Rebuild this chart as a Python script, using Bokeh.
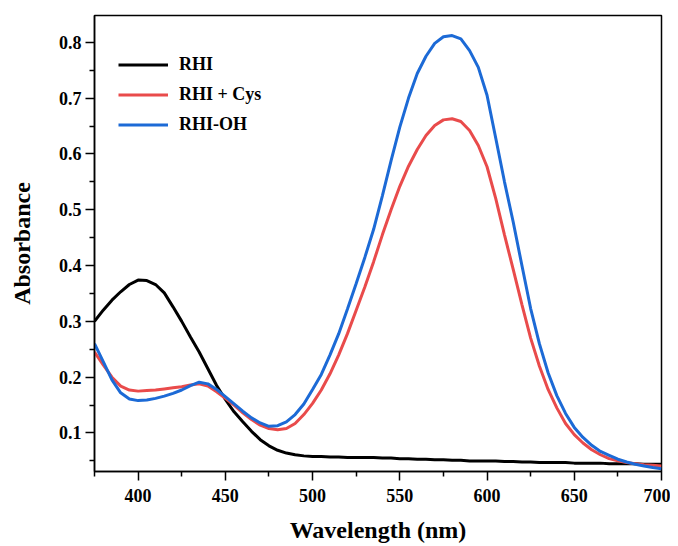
from bokeh.plotting import figure
from bokeh.models import FixedTicker, Legend, LegendItem, Range1d
from bokeh.embed import file_html
from bokeh.resources import INLINE

# Wavelength grid (nm)
wavelength = list(range(375, 701, 5))

rhi = [0.300, 0.320, 0.338, 0.353, 0.366, 0.374, 0.373, 0.366, 0.351, 0.326,
       0.300, 0.272, 0.245, 0.215, 0.185, 0.160, 0.138, 0.120, 0.103, 0.088,
       0.077, 0.069, 0.064, 0.061, 0.059, 0.058, 0.058, 0.057, 0.057, 0.056,
       0.056, 0.056, 0.056, 0.055, 0.055, 0.054, 0.054, 0.053, 0.053, 0.052,
       0.052, 0.051, 0.051, 0.050, 0.050, 0.050, 0.050, 0.049, 0.049, 0.048,
       0.048, 0.047, 0.047, 0.047, 0.047, 0.046, 0.046, 0.046, 0.046, 0.045,
       0.045, 0.045, 0.045, 0.044, 0.044, 0.044]

rhi_cys = [0.245, 0.222, 0.200, 0.184, 0.177, 0.175, 0.176, 0.177, 0.179, 0.181,
           0.183, 0.186, 0.188, 0.184, 0.174, 0.162, 0.150, 0.136, 0.124, 0.114,
           0.108, 0.106, 0.108, 0.117, 0.133, 0.153, 0.177, 0.206, 0.240, 0.278,
           0.320, 0.362, 0.407, 0.455, 0.500, 0.542, 0.578, 0.608, 0.633, 0.651,
           0.661, 0.663, 0.658, 0.642, 0.615, 0.577, 0.520, 0.455, 0.393, 0.330,
           0.270, 0.220, 0.178, 0.145, 0.117, 0.097, 0.082, 0.070, 0.061, 0.054,
           0.050, 0.047, 0.045, 0.043, 0.042, 0.041]

rhi_oh = [0.260, 0.228, 0.195, 0.172, 0.161, 0.158, 0.159, 0.162, 0.166, 0.171,
          0.177, 0.185, 0.191, 0.188, 0.178, 0.165, 0.152, 0.139, 0.127, 0.118,
          0.112, 0.113, 0.120, 0.133, 0.152, 0.178, 0.205, 0.240, 0.278, 0.322,
          0.368, 0.415, 0.465, 0.525, 0.588, 0.648, 0.700, 0.744, 0.775, 0.798,
          0.810, 0.812, 0.806, 0.785, 0.755, 0.705, 0.628, 0.550, 0.478, 0.400,
          0.323, 0.260, 0.208, 0.167, 0.135, 0.110, 0.092, 0.078, 0.067, 0.060,
          0.053, 0.048, 0.044, 0.041, 0.038, 0.036]

series_labels = ["RHI", "RHI + Cys", "RHI-OH"]
series_colors = ["#000000", "#E94B4B", "#1C6AD6"]

x_major = [400, 450, 500, 550, 600, 650, 700]
x_minor = [375, 425, 475, 525, 575, 625, 675]
y_major = [0.1, 0.2, 0.3, 0.4, 0.5, 0.6, 0.7, 0.8]
y_minor = [0.05, 0.15, 0.25, 0.35, 0.45, 0.55, 0.65, 0.75]

FONT = "Liberation Serif"

p = figure(width=670, height=546, output_backend="svg", toolbar_location=None,
           x_range=Range1d(375, 700), y_range=Range1d(0.031, 0.848),
           min_border_left=94, min_border_right=9, min_border_top=15,
           min_border_bottom=75)

p.background_fill_color = "white"
p.border_fill_color = "white"
p.outline_line_color = "black"
p.outline_line_width = 1.5
p.xgrid.visible = False
p.ygrid.visible = False

renderers = []
for ys, col in zip([rhi, rhi_cys, rhi_oh], series_colors):
    renderers.append(p.line(wavelength, ys, line_color=col, line_width=3))

for ax, major, minor in ((p.xaxis[0], x_major, x_minor), (p.yaxis[0], y_major, y_minor)):
    ax.ticker = FixedTicker(ticks=major, minor_ticks=minor)
    ax.axis_line_color = "black"
    ax.axis_line_width = 1.5
    ax.major_tick_line_width = 1.5
    ax.minor_tick_line_width = 1.5
    ax.major_tick_in = 0
    ax.major_tick_out = 9
    ax.minor_tick_in = 0
    ax.minor_tick_out = 5
    ax.major_label_text_font = FONT
    ax.major_label_text_font_style = "bold"
    ax.major_label_text_font_size = "18px"
    ax.major_label_text_color = "black"
    ax.axis_label_text_font = FONT
    ax.axis_label_text_font_style = "bold"
    ax.axis_label_text_font_size = "24px"
    ax.axis_label_text_color = "black"

p.xaxis.axis_label = "Wavelength (nm)"
p.yaxis.axis_label = "Absorbance"
p.xaxis.major_label_standoff = 8
p.xaxis.axis_label_standoff = 12
p.yaxis.major_label_standoff = 4
p.yaxis.axis_label_standoff = 21

legend = Legend(items=[LegendItem(label=lab, renderers=[r])
                       for lab, r in zip(series_labels, renderers)],
                location=(24, 336), glyph_width=50, glyph_height=21,
                label_height=21, label_standoff=11, spacing=9,
                padding=0, margin=0,
                border_line_alpha=0, background_fill_alpha=0,
                label_text_font=FONT, label_text_font_style="bold",
                label_text_font_size="18px", label_text_color="black")
p.add_layout(legend)

open("out.html", "w").write(file_html(p, INLINE))
